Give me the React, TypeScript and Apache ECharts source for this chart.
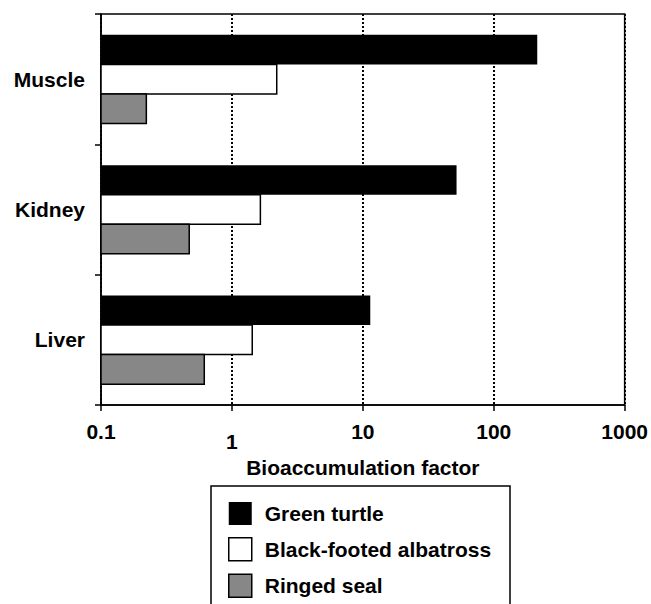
import React, { useEffect, useRef } from "react";
import * as echarts from "echarts";

const categories = ["Muscle", "Kidney", "Liver"];
const greenTurtle = [215, 52, 11.4];
const albatross = [2.2, 1.65, 1.43];
const ringedSeal = [0.222, 0.472, 0.615];
const tickLabels = ["0.1", "1", "10", "100", "1000"];
const seriesNames = ["Green turtle", "Black-footed albatross", "Ringed seal"];
const AXIS_MIN = 0.1;

const FONT = "'Liberation Sans', Arial, Helvetica, sans-serif";

const styles = [
  { color: "#000", borderColor: "#000", borderWidth: 0 },
  { color: "#fff", borderColor: "#000", borderWidth: 1.5 },
  { color: "#878787", borderColor: "#000", borderWidth: 1.5 },
];

export default function App() {
  const ref = useRef<HTMLDivElement>(null);
  useEffect(() => {
    if (!ref.current) return;
    const chart = echarts.init(ref.current, null, { renderer: "svg" });
    const allValues = [greenTurtle, albatross, ringedSeal];
    const nSeries = allValues.length;
    const fill = 0.68;

    const makeSeries = (k: number) => ({
      type: "custom" as const,
      name: seriesNames[k],
      encode: { x: 0, y: 1 },
      itemStyle: { color: styles[k].color },
      data: allValues[k].map((v, i) => [v, i]),
      renderItem: (params: any, api: any) => {
        const v = api.value(0);
        const ci = api.value(1);
        const start = api.coord([AXIS_MIN, ci]);
        const end = api.coord([v, ci]);
        const band = api.size([0, 1])[1];
        const h = (band * fill) / nSeries;
        const top = start[1] - (band * fill) / 2 + k * h;
        return {
          type: "rect",
          shape: { x: start[0], y: top, width: end[0] - start[0], height: h },
          style: {
            fill: styles[k].color,
            stroke: styles[k].borderWidth ? styles[k].borderColor : null,
            lineWidth: styles[k].borderWidth,
          },
        };
      },
    });

    chart.setOption({
      animation: false,
      backgroundColor: "#fff",
      grid: {
        left: 101,
        right: 26,
        top: 14,
        bottom: 199,
        show: true,
        borderColor: "#000",
        borderWidth: 1.5,
      },
      graphic: [
        {
          type: "rect",
          shape: { x: 211, y: 486, width: 299, height: 140 },
          style: { fill: "none", stroke: "#000", lineWidth: 1.5 },
          silent: true,
        },
      ],
      legend: {
        orient: "vertical",
        left: 228,
        top: 502,
        padding: 0,
        itemWidth: 23,
        itemHeight: 23,
        itemGap: 12,
        data: seriesNames.map((n, k) => ({
          name: n,
          icon: "rect",
          itemStyle: {
            color: styles[k].color,
            borderColor: styles[k].borderColor,
            borderWidth: styles[k].borderWidth,
          },
        })),
        textStyle: {
          fontFamily: FONT,
          fontWeight: "bold",
          fontSize: 21,
          color: "#000",
          padding: [0, 0, 0, 8],
        },
      },
      xAxis: {
        type: "log",
        logBase: 10,
        min: 0.1,
        max: 1000,
        name: "Bioaccumulation factor",
        nameLocation: "middle",
        nameGap: 38,
        nameTextStyle: {
          fontFamily: FONT,
          fontWeight: "bold",
          fontSize: 21,
          color: "#000",
        },
        axisLine: { show: true, lineStyle: { color: "#000", width: 1.5 } },
        axisTick: { show: true, length: 6, lineStyle: { color: "#000", width: 1.5 } },
        splitLine: {
          show: true,
          lineStyle: { color: "#000", width: 2, type: [2, 2] },
        },
        axisLabel: {
          margin: 16,
          color: "#000",
          fontFamily: FONT,
          fontWeight: "bold",
          fontSize: 21,
          formatter: (value: number) => {
            const i = Math.round(Math.log10(value)) + 1;
            const t = tickLabels[i] ?? String(value);
            return t === "1" ? "{low|" + t + "}" : "{n|" + t + "}";
          },
          rich: {
            n: { fontFamily: FONT, fontWeight: "bold", fontSize: 21, color: "#000" },
            low: {
              fontFamily: FONT,
              fontWeight: "bold",
              fontSize: 21,
              color: "#000",
              padding: [10, 0, 0, 0],
            },
          },
        },
      },
      yAxis: {
        type: "category",
        inverse: true,
        data: categories,
        axisLine: { show: true, lineStyle: { color: "#000", width: 1.5 } },
        axisTick: { show: true, length: 6, lineStyle: { color: "#000", width: 1.5 } },
        splitLine: { show: false },
        axisLabel: {
          margin: 16,
          color: "#000",
          fontFamily: FONT,
          fontWeight: "bold",
          fontSize: 21,
        },
      },
      series: [0, 1, 2].map(makeSeries),
    });
    return () => chart.dispose();
  }, []);
  return (
    <div
      ref={ref}
      style={{ width: 651, height: 604, position: "absolute", left: 0, top: 0 }}
    />
  );
}
